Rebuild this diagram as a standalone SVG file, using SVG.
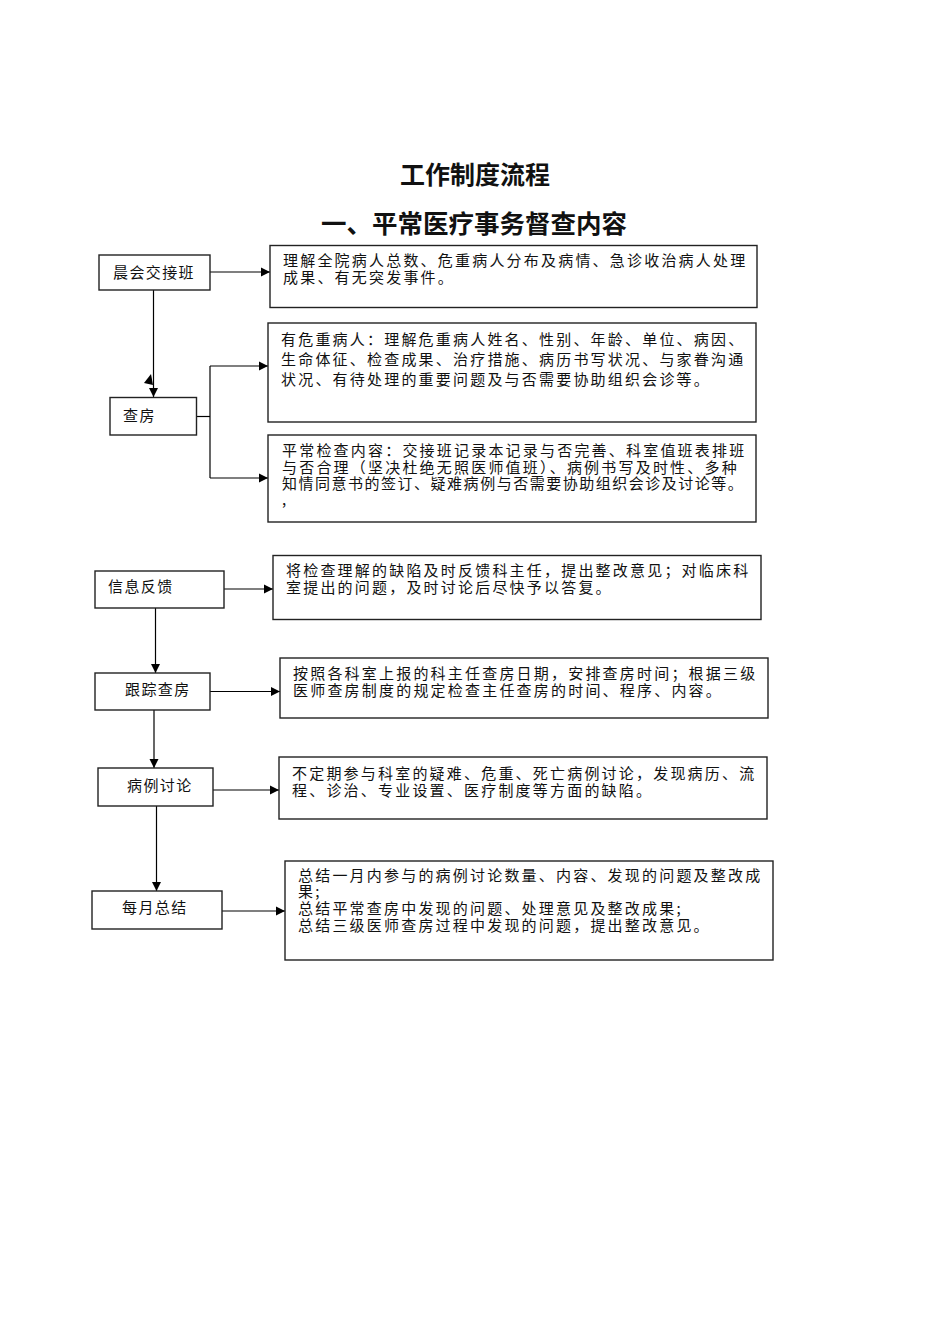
<svg xmlns="http://www.w3.org/2000/svg" width="950" height="1344" viewBox="0 0 950 1344">
<style>
text{font-family:"Noto Sans CJK SC","Liberation Sans",sans-serif;fill:#111}
.title{font-size:25px;font-weight:bold;text-anchor:middle}
.nl{font-size:15px;letter-spacing:1.4px}
.bt{font-size:15px;letter-spacing:2.2px}
.box{fill:#fff;stroke:#222;stroke-width:1.4}
.c{stroke:#000;stroke-width:1.2;fill:none}
.a{marker-end:url(#arr)}
</style>
<defs>
<marker id="arr" markerUnits="userSpaceOnUse" markerWidth="10" markerHeight="10" refX="9" refY="5" orient="auto">
<path d="M0,0.5 L9,5 L0,9.5 z" fill="#000"/>
</marker>
</defs>
<rect width="950" height="1344" fill="#fff"/>
<text class="title" x="475" y="184">工作制度流程</text>
<text class="title" x="474" y="233" style="font-size:25.5px">一、平常医疗事务督查内容</text>

<g id="connectors">
<line class="c a" x1="210" y1="272" x2="270" y2="272"/>
<line class="c a" x1="153.5" y1="290" x2="153.5" y2="397"/>
<polygon points="151,374 144,383 153,385" fill="#000"/>
<polyline class="c" points="197,416.5 210,416.5"/>
<line class="c" x1="210" y1="366" x2="210" y2="478"/>
<line class="c a" x1="210" y1="366" x2="268" y2="366"/>
<line class="c a" x1="210" y1="478" x2="268" y2="478"/>
<line class="c a" x1="224" y1="589" x2="273" y2="589"/>
<line class="c a" x1="155.5" y1="608" x2="155.5" y2="673"/>
<line class="c a" x1="210" y1="691.5" x2="280" y2="691.5"/>
<line class="c a" x1="154" y1="710" x2="154" y2="768"/>
<line class="c a" x1="213" y1="790" x2="279" y2="790"/>
<line class="c a" x1="156.5" y1="806" x2="156.5" y2="891"/>
<line class="c a" x1="222" y1="911" x2="285" y2="911"/>
</g>

<g id="n-chenhui">
<rect class="box" x="99" y="255" width="111" height="35"/>
<text class="nl" x="113" y="278">晨会交接班</text>
</g>
<g id="n-box1">
<rect class="box" x="270" y="245.5" width="487" height="62"/>
<text class="bt" x="283" y="266">理解全院病人总数、危重病人分布及病情、急诊收治病人处理</text>
<text class="bt" x="283" y="283">成果、有无突发事件。</text>
</g>
<g id="n-chafang">
<rect class="box" x="110" y="397.5" width="86.5" height="37.5"/>
<text class="nl" x="123" y="421">查房</text>
</g>
<g id="n-box2">
<rect class="box" x="268" y="323" width="488" height="99"/>
<text class="bt" x="281" y="345">有危重病人：理解危重病人姓名、性别、年龄、单位、病因、</text>
<text class="bt" x="281" y="365">生命体征、检查成果、治疗措施、病历书写状况、与家眷沟通</text>
<text class="bt" x="281" y="385">状况、有待处理的重要问题及与否需要协助组织会诊等。</text>
</g>
<g id="n-box3">
<rect class="box" x="268" y="435" width="488" height="87"/>
<text class="bt" x="282" y="456">平常检查内容：交接班记录本记录与否完善、科室值班表排班</text>
<text class="bt" x="282" y="472.5">与否合理（坚决杜绝无照医师值班）、病例书写及时性、多种</text>
<text class="bt" x="282" y="489" textLength="463" lengthAdjust="spacing">知情同意书的签订、疑难病例与否需要协助组织会诊及讨论等。</text>
<text class="bt" x="282" y="505">,</text>
</g>
<g id="n-xinxi">
<rect class="box" x="95" y="571" width="129" height="37"/>
<text class="nl" x="108" y="592">信息反馈</text>
</g>
<g id="n-box4">
<rect class="box" x="273" y="555.5" width="488" height="64"/>
<text class="bt" x="286" y="576">将检查理解的缺陷及时反馈科主任，提出整改意见；对临床科</text>
<text class="bt" x="286" y="593">室提出的问题，及时讨论后尽快予以答复。</text>
</g>
<g id="n-genzong">
<rect class="box" x="95" y="673" width="115" height="37"/>
<text class="nl" x="125" y="695">跟踪查房</text>
</g>
<g id="n-box5">
<rect class="box" x="280" y="658" width="488" height="60"/>
<text class="bt" x="293" y="679">按照各科室上报的科主任查房日期，安排查房时间；根据三级</text>
<text class="bt" x="293" y="696">医师查房制度的规定检查主任查房的时间、程序、内容。</text>
</g>
<g id="n-bingli">
<rect class="box" x="98" y="768" width="115" height="38"/>
<text class="nl" x="127" y="791">病例讨论</text>
</g>
<g id="n-box6">
<rect class="box" x="279" y="757" width="488" height="62"/>
<text class="bt" x="292" y="779">不定期参与科室的疑难、危重、死亡病例讨论，发现病历、流</text>
<text class="bt" x="292" y="796">程、诊治、专业设置、医疗制度等方面的缺陷。</text>
</g>
<g id="n-meiyue">
<rect class="box" x="92" y="891" width="130" height="38"/>
<text class="nl" x="122" y="913">每月总结</text>
</g>
<g id="n-box7">
<rect class="box" x="285" y="861" width="488" height="99"/>
<text class="bt" x="298" y="881">总结一月内参与的病例讨论数量、内容、发现的问题及整改成</text>
<text class="bt" x="298" y="897">果;</text>
<text class="bt" x="298" y="914">总结平常查房中发现的问题、处理意见及整改成果;</text>
<text class="bt" x="298" y="931">总结三级医师查房过程中发现的问题，提出整改意见。</text>
</g>
</svg>
